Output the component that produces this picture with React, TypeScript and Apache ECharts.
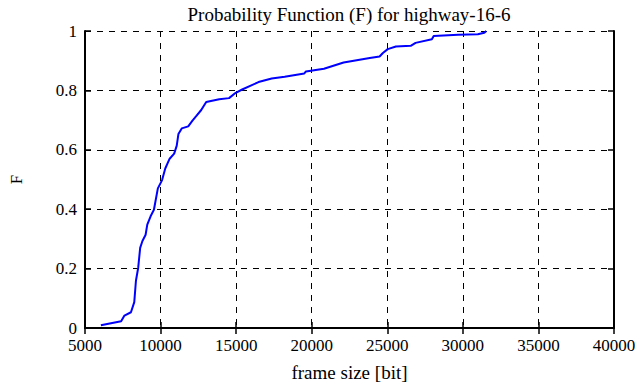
import React, { useEffect, useRef } from "react";
import * as echarts from "echarts";

const frameSize = [
  6050, 7390, 7610, 8040, 8260, 8370, 8520, 8650, 8800, 9010, 9120, 9340, 9560, 9660, 9820,
  10100, 10310, 10600, 10900, 11070, 11180, 11400, 11830, 12110, 12370, 12690, 13020, 13880,
  14530, 14970, 15400, 16480, 17350, 18210, 19510, 19620, 20810, 22110, 23840, 24490, 24710,
  25030, 25570, 26550, 26870, 27950, 28070, 29690, 30990, 31420, 31550,
];
const cdf = [
  0.009, 0.023, 0.042, 0.053, 0.087, 0.159, 0.203, 0.27, 0.293, 0.314, 0.348, 0.376, 0.398,
  0.426, 0.47, 0.498, 0.537, 0.57, 0.587, 0.614, 0.653, 0.672, 0.679, 0.698, 0.714, 0.734,
  0.761, 0.77, 0.774, 0.792, 0.803, 0.828, 0.84, 0.846, 0.857, 0.864, 0.873, 0.894, 0.909,
  0.914, 0.926, 0.939, 0.948, 0.95, 0.96, 0.972, 0.983, 0.987, 0.989, 0.994, 1.0,
];

const titleText = "Probability Function (F) for highway-16-6";
const xName = "frame size [bit]";
const yName = "F";

const FONT = "'Liberation Serif', 'Times New Roman', serif";

export default function App() {
  const ref = useRef<HTMLDivElement>(null);
  useEffect(() => {
    if (!ref.current) return;
    const chart = echarts.init(ref.current, undefined, { renderer: "svg" });
    const data = frameSize.map((x, i) => [x, cdf[i]]);
    const gridLine = { show: true, lineStyle: { color: "#000", type: [6, 6] as any, width: 1 } };
    const axisLine = { show: true, lineStyle: { color: "#000", width: 2 } };
    const tick = { show: true, inside: true, length: 6, lineStyle: { color: "#000", width: 1.5 } };
    const labelStyle = { fontFamily: FONT, fontSize: 17, color: "#000" };
    chart.setOption({
      animation: false,
      backgroundColor: "#fff",
      textStyle: { fontFamily: FONT, color: "#000" },
      title: {
        text: titleText,
        left: 344,
        textAlign: "center",
        top: 0,
        textStyle: { fontFamily: FONT, fontSize: 19, fontWeight: "normal", color: "#000" },
      },
      grid: { left: 75, right: 25, top: 31, bottom: 56, containLabel: false },
      xAxis: [
        {
          type: "value",
          min: 5000,
          max: 40000,
          interval: 5000,
          name: xName,
          nameLocation: "middle",
          nameGap: 35,
          nameTextStyle: { ...labelStyle, fontSize: 19 },
          axisLine,
          axisTick: tick,
          splitLine: gridLine,
          axisLabel: { ...labelStyle, margin: 9, formatter: (v: number) => String(v) },
        },
        {
          type: "value",
          position: "top",
          min: 5000,
          max: 40000,
          interval: 5000,
          axisLine,
          axisTick: tick,
          splitLine: { show: false },
          axisLabel: { show: false },
        },
      ],
      yAxis: [
        {
          type: "value",
          min: 0,
          max: 1,
          interval: 0.2,
          name: yName,
          nameLocation: "middle",
          nameGap: 60,
          nameTextStyle: labelStyle,
          axisLine,
          axisTick: tick,
          splitLine: gridLine,
          axisLabel: { ...labelStyle, margin: 8, formatter: (v: number) => String(Math.round(v * 10) / 10) },
        },
        {
          type: "value",
          position: "right",
          min: 0,
          max: 1,
          interval: 0.2,
          axisLine,
          axisTick: tick,
          splitLine: { show: false },
          axisLabel: { show: false },
        },
      ],
      series: [
        {
          type: "line",
          data,
          showSymbol: false,
          symbol: "none",
          lineStyle: { color: "#0000ff", width: 2 },
          xAxisIndex: 0,
          yAxisIndex: 0,
        },
      ],
    });
    return () => chart.dispose();
  }, []);
  return <div ref={ref} style={{ width: 639, height: 387, position: "absolute", left: 0, top: 0 }} />;
}
